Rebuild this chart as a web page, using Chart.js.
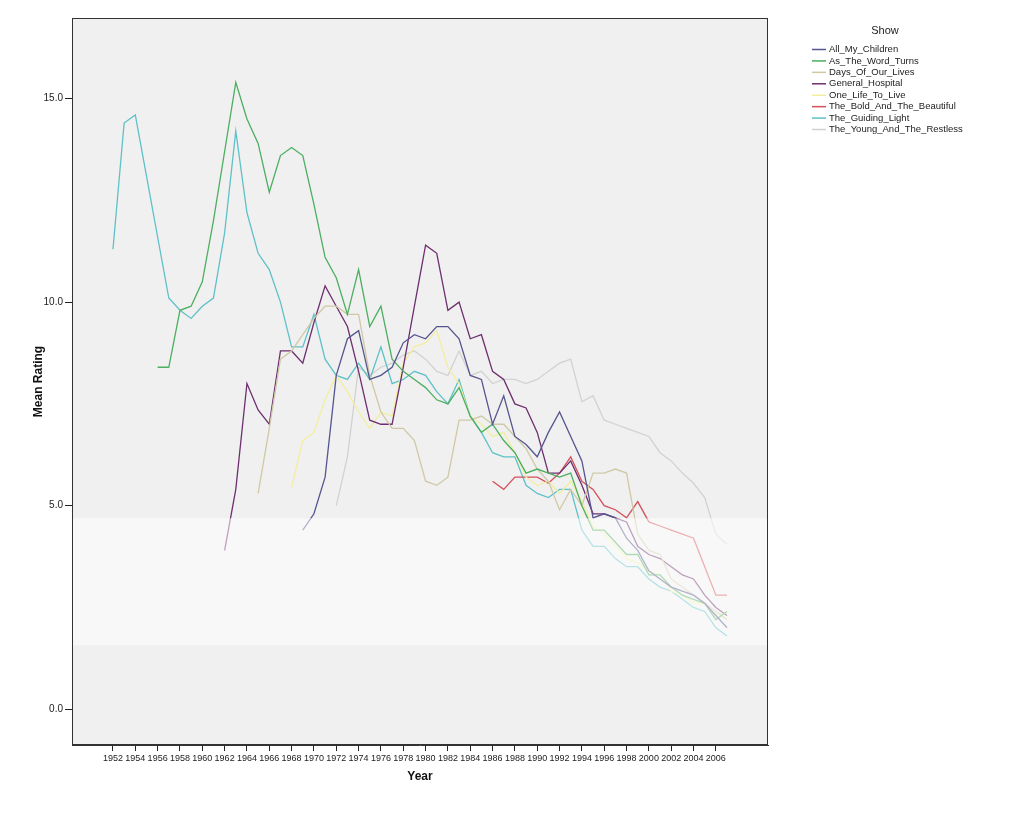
<!DOCTYPE html>
<html>
<head>
<meta charset="utf-8">
<script src="https://cdn.jsdelivr.net/npm/chart.js@4.4.1/dist/chart.umd.min.js"></script>
<style>
  html, body { margin: 0; padding: 0; background: #fff; }
</style>
</head>
<body>
<canvas id="myChart" width="1024" height="820"></canvas>
<script>
// Mean rating per year, 1952 - 2007
const years = [
  1952, 1953, 1954, 1955, 1956, 1957, 1958, 1959, 1960, 1961,
  1962, 1963, 1964, 1965, 1966, 1967, 1968, 1969, 1970, 1971,
  1972, 1973, 1974, 1975, 1976, 1977, 1978, 1979, 1980, 1981,
  1982, 1983, 1984, 1985, 1986, 1987, 1988, 1989, 1990, 1991,
  1992, 1993, 1994, 1995, 1996, 1997, 1998, 1999, 2000, 2001,
  2002, 2003, 2004, 2005, 2006, 2007
];
const xTicks = [1952, 1954, 1956, 1958, 1960, 1962, 1964, 1966, 1968, 1970, 1972, 1974, 1976, 1978,
  1980, 1982, 1984, 1986, 1988, 1990, 1992, 1994, 1996, 1998, 2000, 2002, 2004, 2006];
const yTicks = [0, 5, 10, 15];

const allMyChildren = [
  null, null, null, null, null, null, null, null, null, null,
  null, null, null, null, null, null, null, 4.4, 4.8, 5.7,
  8.2, 9.1, 9.3, 8.1, 8.2, 8.4, 9.0, 9.2, 9.1, 9.4,
  9.4, 9.1, 8.2, 8.1, 7.0, 7.7, 6.7, 6.5, 6.2, 6.8,
  7.3, 6.7, 6.1, 4.7, 4.8, 4.7, 4.2, 3.9, 3.4, 3.2,
  3.0, 2.9, 2.8, 2.6, 2.3, 2.0
];
const asTheWorldTurns = [
  null, null, null, null, 8.4, 8.4, 9.8, 9.9, 10.5, 12.0,
  13.7, 15.4, 14.5, 13.9, 12.7, 13.6, 13.8, 13.6, 12.4, 11.1,
  10.6, 9.7, 10.8, 9.4, 9.9, 8.6, 8.3, 8.1, 7.9, 7.6,
  7.5, 7.9, 7.2, 6.8, 7.0, 6.6, 6.3, 5.8, 5.9, 5.8,
  5.7, 5.8, 5.0, 4.4, 4.4, 4.1, 3.8, 3.8, 3.3, 3.3,
  3.0, 2.8, 2.7, 2.6, 2.2, 2.4
];
const daysOfOurLives = [
  null, null, null, null, null, null, null, null, null, null,
  null, null, null, 5.3, 6.9, 8.6, 8.8, 9.2, 9.6, 9.9,
  9.9, 9.7, 9.7, 8.2, 7.3, 6.9, 6.9, 6.6, 5.6, 5.5,
  5.7, 7.1, 7.1, 7.2, 7.0, 7.0, 6.7, 6.4, 5.9, 5.6,
  4.9, 5.4, 5.0, 5.8, 5.8, 5.9, 5.8, 4.3, 3.9, 3.8,
  3.2, 3.0, 2.8, 2.6, 2.4, 2.2
];
const generalHospital = [
  null, null, null, null, null, null, null, null, null, null,
  3.9, 5.4, 8.0, 7.35, 7.0, 8.8, 8.8, 8.5, 9.5, 10.4,
  9.9, 9.4, 8.3, 7.1, 7.0, 7.0, 8.4, 9.9, 11.4, 11.2,
  9.8, 10.0, 9.1, 9.2, 8.3, 8.1, 7.5, 7.4, 6.8, 5.8,
  5.8, 6.1, 5.5, 4.8, 4.8, 4.7, 4.6, 4.0, 3.8, 3.7,
  3.5, 3.3, 3.2, 2.8, 2.5, 2.3
];
const oneLifeToLive = [
  null, null, null, null, null, null, null, null, null, null,
  null, null, null, null, null, null, 5.45, 6.6, 6.8, 7.6,
  8.2, 7.8, 7.3, 6.9, 7.3, 7.2, 8.5, 8.9, 9.0, 9.3,
  8.4, 8.0, 7.2, 7.0, 6.7, 6.8, 6.3, 5.7, 5.5, 5.6,
  5.3, 5.6, 5.1, 4.5, 4.3, 4.0, 3.7, 3.6, 3.4, 3.3,
  2.9, 2.8, 2.6, 2.6, 2.3, 2.4
];
const boldAndBeautiful = [
  null, null, null, null, null, null, null, null, null, null,
  null, null, null, null, null, null, null, null, null, null,
  null, null, null, null, null, null, null, null, null, null,
  null, null, null, null, 5.6, 5.4, 5.7, 5.7, 5.7, 5.55,
  5.8, 6.2, 5.6, 5.4, 5.0, 4.9, 4.7, 5.1, 4.6, 4.5,
  4.4, 4.3, 4.2, 3.5, 2.8, 2.8
];
const guidingLight = [
  11.3, 14.4, 14.6, 13.1, 11.6, 10.1, 9.8, 9.6, 9.9, 10.1,
  11.7, 14.2, 12.2, 11.2, 10.8, 10.0, 8.9, 8.9, 9.7, 8.6,
  8.2, 8.1, 8.5, 8.1, 8.9, 8.0, 8.1, 8.3, 8.2, 7.8,
  7.5, 8.1, 7.2, 6.8, 6.3, 6.2, 6.2, 5.5, 5.3, 5.2,
  5.4, 5.4, 4.4, 4.0, 4.0, 3.7, 3.5, 3.5, 3.2, 3.0,
  2.9, 2.7, 2.5, 2.4, 2.0, 1.8
];
const youngAndRestless = [
  null, null, null, null, null, null, null, null, null, null,
  null, null, null, null, null, null, null, null, null, null,
  5.0, 6.2, 8.4, 8.2, 8.4, 8.5, 8.7, 8.8, 8.6, 8.3,
  8.2, 8.8, 8.2, 8.3, 8.0, 8.1, 8.1, 8.0, 8.1, 8.3,
  8.5, 8.6, 7.55, 7.7, 7.1, 7.0, 6.9, 6.8, 6.7, 6.3,
  6.1, 5.8, 5.55, 5.2, 4.3, 4.05
];

const showNames = ['All_My_Children', 'As_The_Word_Turns', 'Days_Of_Our_Lives', 'General_Hospital',
  'One_Life_To_Live', 'The_Bold_And_The_Beautiful', 'The_Guiding_Light', 'The_Young_And_The_Restless'];
const showValues = [allMyChildren, asTheWorldTurns, daysOfOurLives, generalHospital,
  oneLifeToLive, boldAndBeautiful, guidingLight, youngAndRestless];
const showColors = ['#55558f', '#4caf60', '#cfc9a6', '#6e2f6e', '#f2eea0', '#d4505a', '#5ec1c8', '#d2d2d2'];

const FONT = "'Liberation Sans', Arial, sans-serif";

const datasets = showNames.map((name, i) => ({
  label: name,
  data: years.map((yr, j) => ({ x: yr, y: showValues[i][j] })),
  borderColor: showColors[i],
  backgroundColor: showColors[i],
  borderWidth: 1.3,
  pointRadius: 0,
  tension: 0,
  spanGaps: false
}));

// plot background, frame, watermark band and the legend box
const decor = {
  id: 'decor',
  beforeDatasetsDraw(chart) {
    const { ctx, chartArea: a } = chart;
    ctx.save();
    ctx.fillStyle = '#f0f0f0';
    ctx.fillRect(a.left, a.top, a.right - a.left, a.bottom - a.top);
    ctx.restore();
  },
  afterDatasetsDraw(chart) {
    const { ctx, chartArea: a, scales } = chart;
    ctx.save();
    const yTop = scales.y.getPixelForValue(4.69);
    const yBot = scales.y.getPixelForValue(1.57);
    ctx.fillStyle = 'rgba(255,255,255,0.55)';
    ctx.fillRect(a.left, yTop, a.right - a.left, yBot - yTop);
    ctx.strokeStyle = '#333';
    ctx.lineWidth = 1;
    ctx.strokeRect(a.left + 0.5, a.top + 0.5, a.right - a.left - 1, a.bottom - a.top - 1);

    // legend
    ctx.fillStyle = '#222';
    ctx.font = '11px ' + FONT;
    ctx.textAlign = 'center';
    ctx.textBaseline = 'middle';
    ctx.fillText('Show', 885, 31);
    ctx.font = '9.5px ' + FONT;
    ctx.textAlign = 'left';
    showNames.forEach((name, i) => {
      const y = 49 + i * 11.43;
      ctx.strokeStyle = showColors[i];
      ctx.lineWidth = 1.5;
      ctx.beginPath();
      ctx.moveTo(812, y + 0.5);
      ctx.lineTo(826, y + 0.5);
      ctx.stroke();
      ctx.fillStyle = '#222';
      ctx.fillText(name, 829, y + 0.5);
    });
    ctx.restore();
  }
};

new Chart(document.getElementById('myChart').getContext('2d'), {
  type: 'line',
  data: { datasets: datasets },
  options: {
    responsive: false,
    animation: false,
    devicePixelRatio: 1,
    layout: { padding: { left: 0, top: 18, right: 256, bottom: 0 } },
    plugins: {
      legend: { display: false },
      tooltip: { enabled: false }
    },
    scales: {
      x: {
        type: 'linear',
        min: 1948.33,
        max: 2010.67,
        afterBuildTicks: (s) => { s.ticks = xTicks.map(v => ({ value: v })); },
        afterFit: (s) => { s.height = 75; },
        grid: { drawOnChartArea: false, drawTicks: true, tickLength: 6, color: '#222' },
        border: { display: true, color: '#333' },
        ticks: {
          autoSkip: false,
          maxRotation: 0,
          padding: 2,
          color: '#222',
          font: { family: FONT, size: 9 },
          callback: (v) => String(v)
        },
        title: {
          display: true,
          text: 'Year',
          color: '#111',
          font: { family: FONT, size: 12, weight: 'bold' },
          padding: { top: 0, bottom: 36 }
        }
      },
      y: {
        min: -0.88,
        max: 16.98,
        afterBuildTicks: (s) => { s.ticks = yTicks.map(v => ({ value: v })); },
        afterFit: (s) => { s.width = 72; },
        grid: { drawOnChartArea: false, drawTicks: true, tickLength: 7, color: '#222' },
        border: { display: true, color: '#333' },
        ticks: {
          padding: 2,
          color: '#222',
          font: { family: FONT, size: 10 },
          callback: (v) => v.toFixed(1)
        },
        title: {
          display: true,
          text: 'Mean Rating',
          color: '#111',
          font: { family: FONT, size: 12, weight: 'bold' },
          padding: { top: 31, bottom: 0 }
        }
      }
    }
  },
  plugins: [decor]
});
</script>
</body>
</html>
